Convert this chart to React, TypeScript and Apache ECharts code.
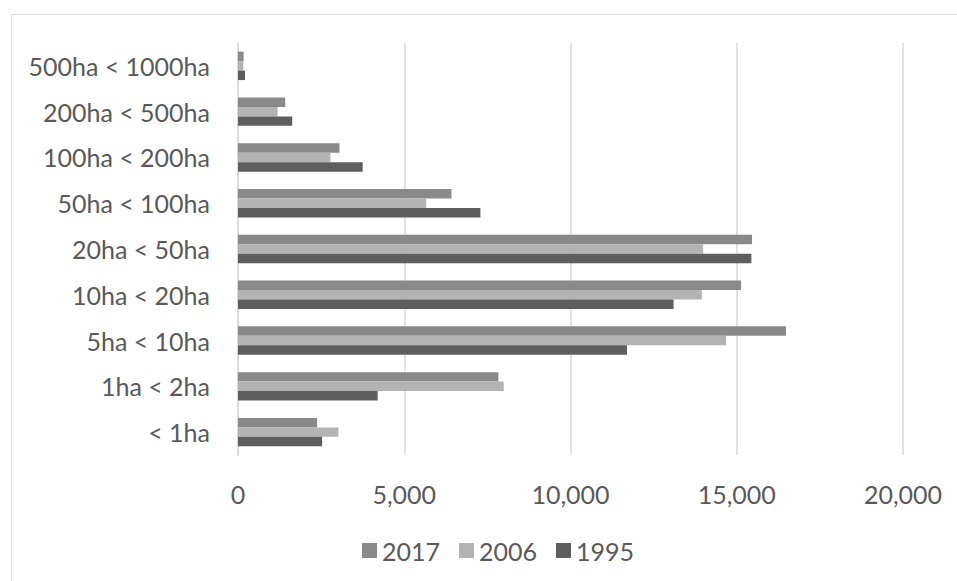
import React, { useEffect, useRef } from "react";
import * as echarts from "echarts";

const categories = [
  "< 1ha",
  "1ha < 2ha",
  "5ha < 10ha",
  "10ha < 20ha",
  "20ha < 50ha",
  "50ha < 100ha",
  "100ha < 200ha",
  "200ha < 500ha",
  "500ha < 1000ha",
];
const values2017 = [2380, 7830, 16480, 15130, 15460, 6420, 3050, 1420, 170];
const values2006 = [3020, 7990, 14680, 13950, 13990, 5660, 2780, 1190, 160];
const values1995 = [2530, 4200, 11700, 13100, 15440, 7290, 3750, 1630, 210];
const xTicks = [0, 5000, 10000, 15000, 20000];

const FONT = "Lato";
const TEXT = "#595959";

export default function App() {
  const ref = useRef<HTMLDivElement>(null);
  useEffect(() => {
    if (!ref.current) return;
    const chart = echarts.init(ref.current, null, { renderer: "svg" });
    chart.setOption({
      animation: false,
      backgroundColor: "#ffffff",
      graphic: [
        {
          type: "rect",
          shape: { x: 11.5, y: 14.5, width: 960, height: 600 },
          style: { fill: "none", stroke: "#d9d9d9", lineWidth: 1 },
          silent: true,
        },
      ],
      grid: { left: 238, right: 54, top: 43, bottom: 126, containLabel: false },
      xAxis: {
        type: "value",
        min: xTicks[0],
        max: xTicks[xTicks.length - 1],
        interval: 5000,
        axisLine: { show: false },
        axisTick: { show: false },
        splitLine: { show: true, lineStyle: { color: "#d9d9d9", width: 1.5 } },
        axisLabel: {
          color: TEXT,
          fontFamily: FONT,
          fontSize: 25,
          margin: 26,
          formatter: (v: number) => v.toLocaleString("en-US"),
        },
      },
      yAxis: {
        type: "category",
        data: categories,
        axisLine: { show: true, lineStyle: { color: "#d9d9d9", width: 1.5 } },
        axisTick: { show: false },
        axisLabel: { color: TEXT, fontFamily: FONT, fontSize: 25, margin: 28 },
      },
      legend: {
        data: ["2017", "2006", "1995"],
        left: 357,
        top: 533,
        itemWidth: 15,
        itemHeight: 15,
        itemGap: 19,
        icon: "rect",
        textStyle: { color: TEXT, fontFamily: FONT, fontSize: 25 },
      },
      series: [
        {
          name: "2017",
          type: "bar",
          data: values2017,
          itemStyle: { color: "#898989" },
          barGap: "0%",
          barCategoryGap: "38%",
        },
        {
          name: "2006",
          type: "bar",
          data: values2006,
          itemStyle: { color: "#b3b3b3" },
          barGap: "0%",
          barCategoryGap: "38%",
        },
        {
          name: "1995",
          type: "bar",
          data: values1995,
          itemStyle: { color: "#5e5e5e" },
          barGap: "0%",
          barCategoryGap: "38%",
        },
      ],
    });
    return () => chart.dispose();
  }, []);
  return <div ref={ref} style={{ width: 957, height: 581, position: "absolute", left: 0, top: 0 }} />;
}
